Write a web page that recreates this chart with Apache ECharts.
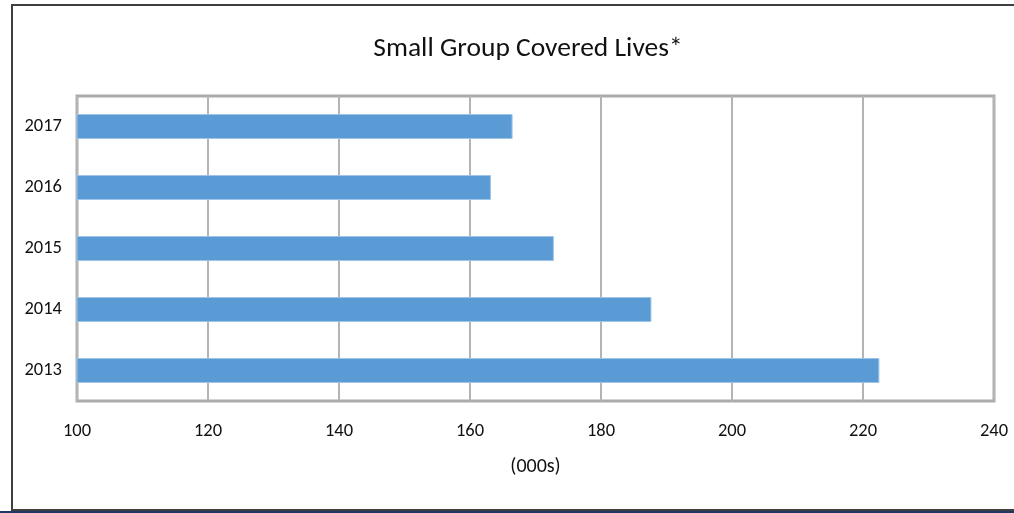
<!DOCTYPE html>
<html>
<head>
<meta charset="utf-8">
<script src="https://cdn.jsdelivr.net/npm/echarts@6/dist/echarts.min.js"></script>
<style>html,body{margin:0;padding:0;background:#fff;}#c{width:1014px;height:513px;}</style>
</head>
<body>
<div id="c"></div>
<script>
const titleText = 'Small Group Covered Lives*';
const categories = ['2013', '2014', '2015', '2016', '2017'];
const values = [222.5, 187.7, 172.8, 163.2, 166.5];
const xMin = 100, xMax = 240, xStep = 20;
const xName = '(000s)';

const FONT = "Carlito, 'Liberation Sans Narrow', 'Open Sans', sans-serif";
const chart = echarts.init(document.getElementById('c'), null, {renderer: 'canvas'});
chart.setOption({
  backgroundColor: '#fff',
  animation: false,
  title: {
    text: titleText,
    left: 523, top: 30, textAlign: 'center',
    textStyle: {fontFamily: FONT, fontSize: 27.5, fontWeight: 'normal', color: '#111'}
  },
  graphic: [
    {type: 'rect', shape: {x: 12, y: 5, width: 1020, height: 505}, style: {fill: 'none', stroke: '#3f3f3f', lineWidth: 2}, silent: true},
    {type: 'line', shape: {x1: 0, y1: 512, x2: 1014, y2: 512}, style: {stroke: '#1f3864', lineWidth: 2}, silent: true}
  ],
  grid: {left: 77, right: 20, top: 96, bottom: 112, show: true, borderColor: '#ababab', borderWidth: 3, containLabel: false},
  xAxis: {
    type: 'value', min: xMin, max: xMax, interval: xStep,
    name: xName, nameLocation: 'middle', nameGap: 56,
    nameTextStyle: {fontFamily: FONT, fontSize: 20, color: '#111'},
    axisLine: {show: false}, axisTick: {show: false},
    axisLabel: {fontFamily: FONT, fontSize: 18.5, color: '#111', margin: 21},
    splitLine: {show: true, lineStyle: {color: '#b4b4b4', width: 2}}
  },
  yAxis: {
    type: 'category', data: categories,
    axisLine: {show: false}, axisTick: {show: false},
    axisLabel: {fontFamily: FONT, fontSize: 18.5, color: '#111', margin: 15},
    splitLine: {show: false}
  },
  series: [{
    type: 'bar', data: values, barWidth: 25,
    itemStyle: {color: '#5b9bd5', borderColor: '#9dc3e6', borderWidth: 1}
  }]
});
</script>
</body>
</html>
